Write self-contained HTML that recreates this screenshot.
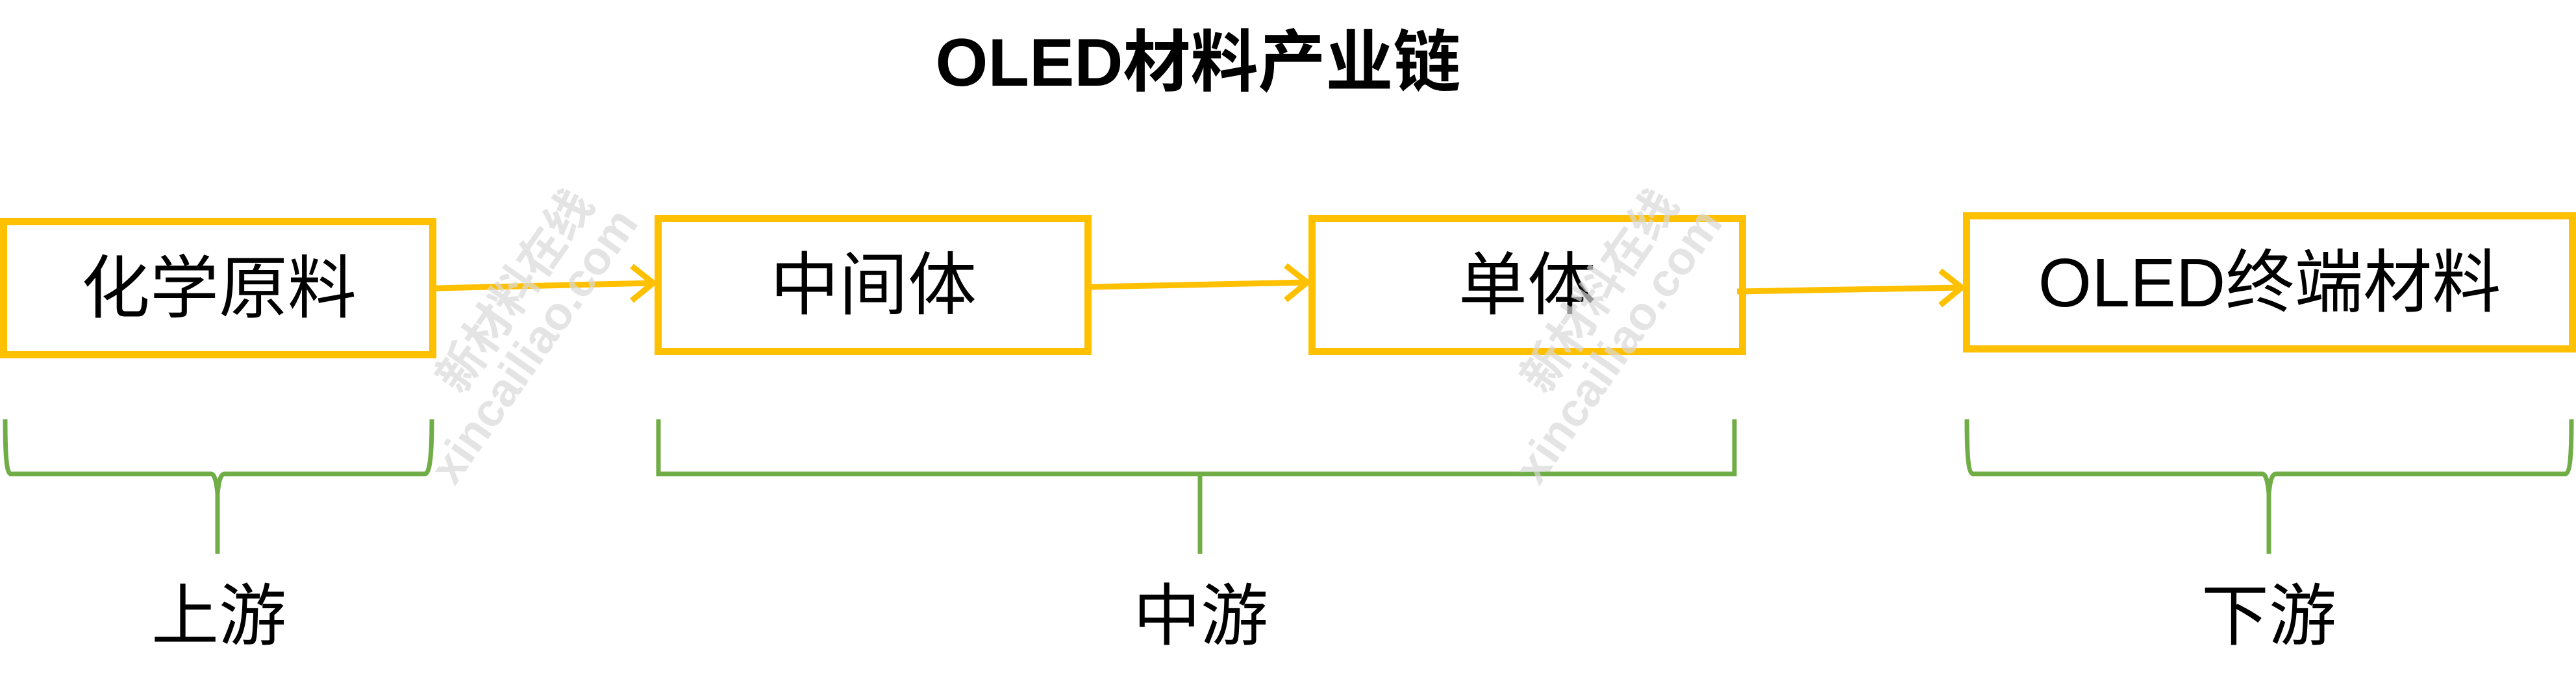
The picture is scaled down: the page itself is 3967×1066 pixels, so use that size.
<!DOCTYPE html>
<html><head><meta charset="utf-8"><style>
html,body{margin:0;padding:0;background:#fff;}
svg{display:block;}
text{font-family:"Liberation Sans","Noto Sans CJK SC",sans-serif;}
</style></head><body>
<svg width="3967" height="1066" viewBox="0 0 3967 1066" xmlns="http://www.w3.org/2000/svg">
<text x="1845" y="132" font-size="104" font-weight="bold" text-anchor="middle" fill="#000">OLED材料产业链</text>
<g fill="none" stroke="#FFC000" stroke-width="11">
<rect x="5.5" y="341.5" width="661" height="205"/>
<rect x="1013.5" y="336.5" width="662" height="205"/>
<rect x="2020.5" y="336.5" width="663" height="205"/>
<rect x="3028.5" y="332.5" width="933" height="205"/>
</g>
<g stroke="#FFC000" stroke-width="9" fill="none">
<line x1="672" y1="444" x2="1004" y2="436"/>
<polyline points="973,410 1006,436 973,463"/>
<line x1="1681" y1="442" x2="2011" y2="435"/>
<polyline points="1980,409 2013,435 1980,462"/>
<line x1="2675" y1="449" x2="3019" y2="443"/>
<polyline points="2988,417 3021,443 2988,470"/>
</g>
<g font-size="106" fill="#000" text-anchor="middle">
<text x="337" y="481">化学原料</text>
<text x="1345" y="476">中间体</text>
<text x="2352" y="476">单体</text>
<text x="3495" y="472">OLED终端材料</text>
</g>
<g stroke="#70AD47" stroke-width="7" fill="none">
<path d="M8,646 C8,700 10,728 16,730 L325,730 C330,730 333,740 335,760 L335,853 M335,760 C337,740 340,730 346,730 L655,730 C662,728 665,700 665,646"/>
<path d="M1014,646 L1014,730 L2671,730 L2671,646 M1848,730 L1848,853"/>
<path d="M3029,646 C3029,700 3031,728 3038,730 L3484,730 C3489,730 3492,740 3494,760 L3494,853 M3494,760 C3496,740 3499,730 3505,730 L3951,730 C3958,728 3960,700 3960,646"/>
</g>
<g font-size="104" fill="#000" text-anchor="middle">
<text x="337" y="985">上游</text>
<text x="1849" y="985">中游</text>
<text x="3494" y="985">下游</text>
</g>
<g fill="#d8d8d8" opacity="0.7" font-weight="bold" font-size="72">
<text transform="translate(710,610) rotate(-55)">新材料在线</text>
<text transform="translate(700,750) rotate(-55)">xincailiao.com</text>
<text transform="translate(2380,610) rotate(-55)">新材料在线</text>
<text transform="translate(2370,750) rotate(-55)">xincailiao.com</text>
</g>
</svg>
</body></html>
